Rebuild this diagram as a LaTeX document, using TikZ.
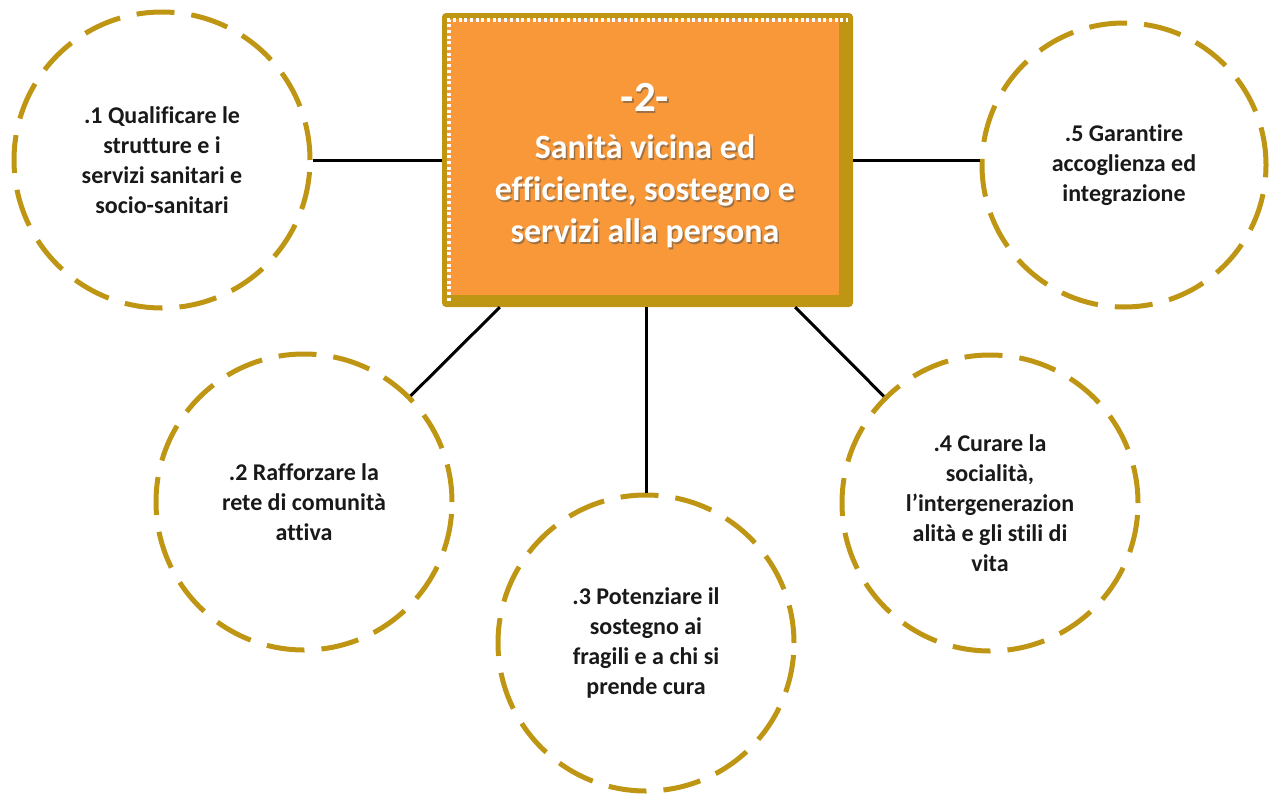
\documentclass[tikz,border=0pt]{standalone}
\usepackage{fontspec}
\setmainfont[Ligatures=NoCommon]{Carlito}
\usetikzlibrary{positioning, calc}
\definecolor{pgold}{RGB}{191,150,20}
\definecolor{porange}{RGB}{248,152,56}

\newcommand{\goaltitle}{{\fontsize{43}{42}\selectfont -2-}\\[5pt]Sanità vicina ed\\efficiente, sostegno e\\servizi alla persona}

\begin{document}
\begin{tikzpicture}[x=1pt, y=-1pt,
  goal/.style={
    fill=pgold, rounded corners=4pt,
    minimum width=411pt, minimum height=294pt, inner sep=0pt
  },
  goaltext/.style={align=center, text=white, font=\fontsize{34}{42}\selectfont\bfseries},
  aim/.style={
    circle, draw=pgold, line width=5pt, dash pattern=on 38pt off 17pt,
    minimum size=296pt, inner sep=0pt, align=center,
    font=\fontsize{24}{30}\selectfont\bfseries, text=black!90
  },
  link/.style={line width=3pt, black}
]
  \useasboundingbox (0,0) rectangle (1283,795);

  % central goal box
  \node[goal] (goal) at (647.5,160) {};
  \fill[porange] ([shift={(5,6)}]goal.north west) rectangle ([shift={(-14,-12)}]goal.south east);
  \draw[white, line width=3.5pt, dash pattern=on 3pt off 2.7pt]
    ([shift={(7,288)}]goal.north west) -- ([shift={(7,7)}]goal.north west) -- ([shift={(406,7)}]goal.north west);
  \node[goaltext, text=black!70, opacity=0.5] at (646.5,167.5) {\goaltitle};
  \node[goaltext] (title) at (645,166) {\goaltitle};

  % objectives
  \node[aim] (c1) at (162,160) {.1 Qualificare le\\strutture e i\\servizi sanitari e\\socio-sanitari};
  \node[aim] (c2) at (304,502) {.2 Rafforzare la\\rete di comunità\\attiva};
  \node[aim] (c3) at (646,643) {.3 Potenziare il\\sostegno ai\\fragili e a chi si\\prende cura};
  \node[aim] (c4) at (990,503) {.4 Curare la\\socialità,\\l’intergenerazion\\alità e gli stili di\\vita};
  \node[aim, minimum size=284pt] (c5) at (1124,165) {.5 Garantire\\accoglienza ed\\integrazione};

  \draw[link] (c1) -- (c1 -| goal.west);
  \draw[link] (goal.east) -- (goal.east -| c5.west);
  \draw[link] ([xshift=58pt]goal.south west) -- (c2);
  \draw[link] (c3 |- goal.south) -- (c3);
  \draw[link] ([xshift=-58pt]goal.south east) -- (c4);
\end{tikzpicture}
\end{document}
